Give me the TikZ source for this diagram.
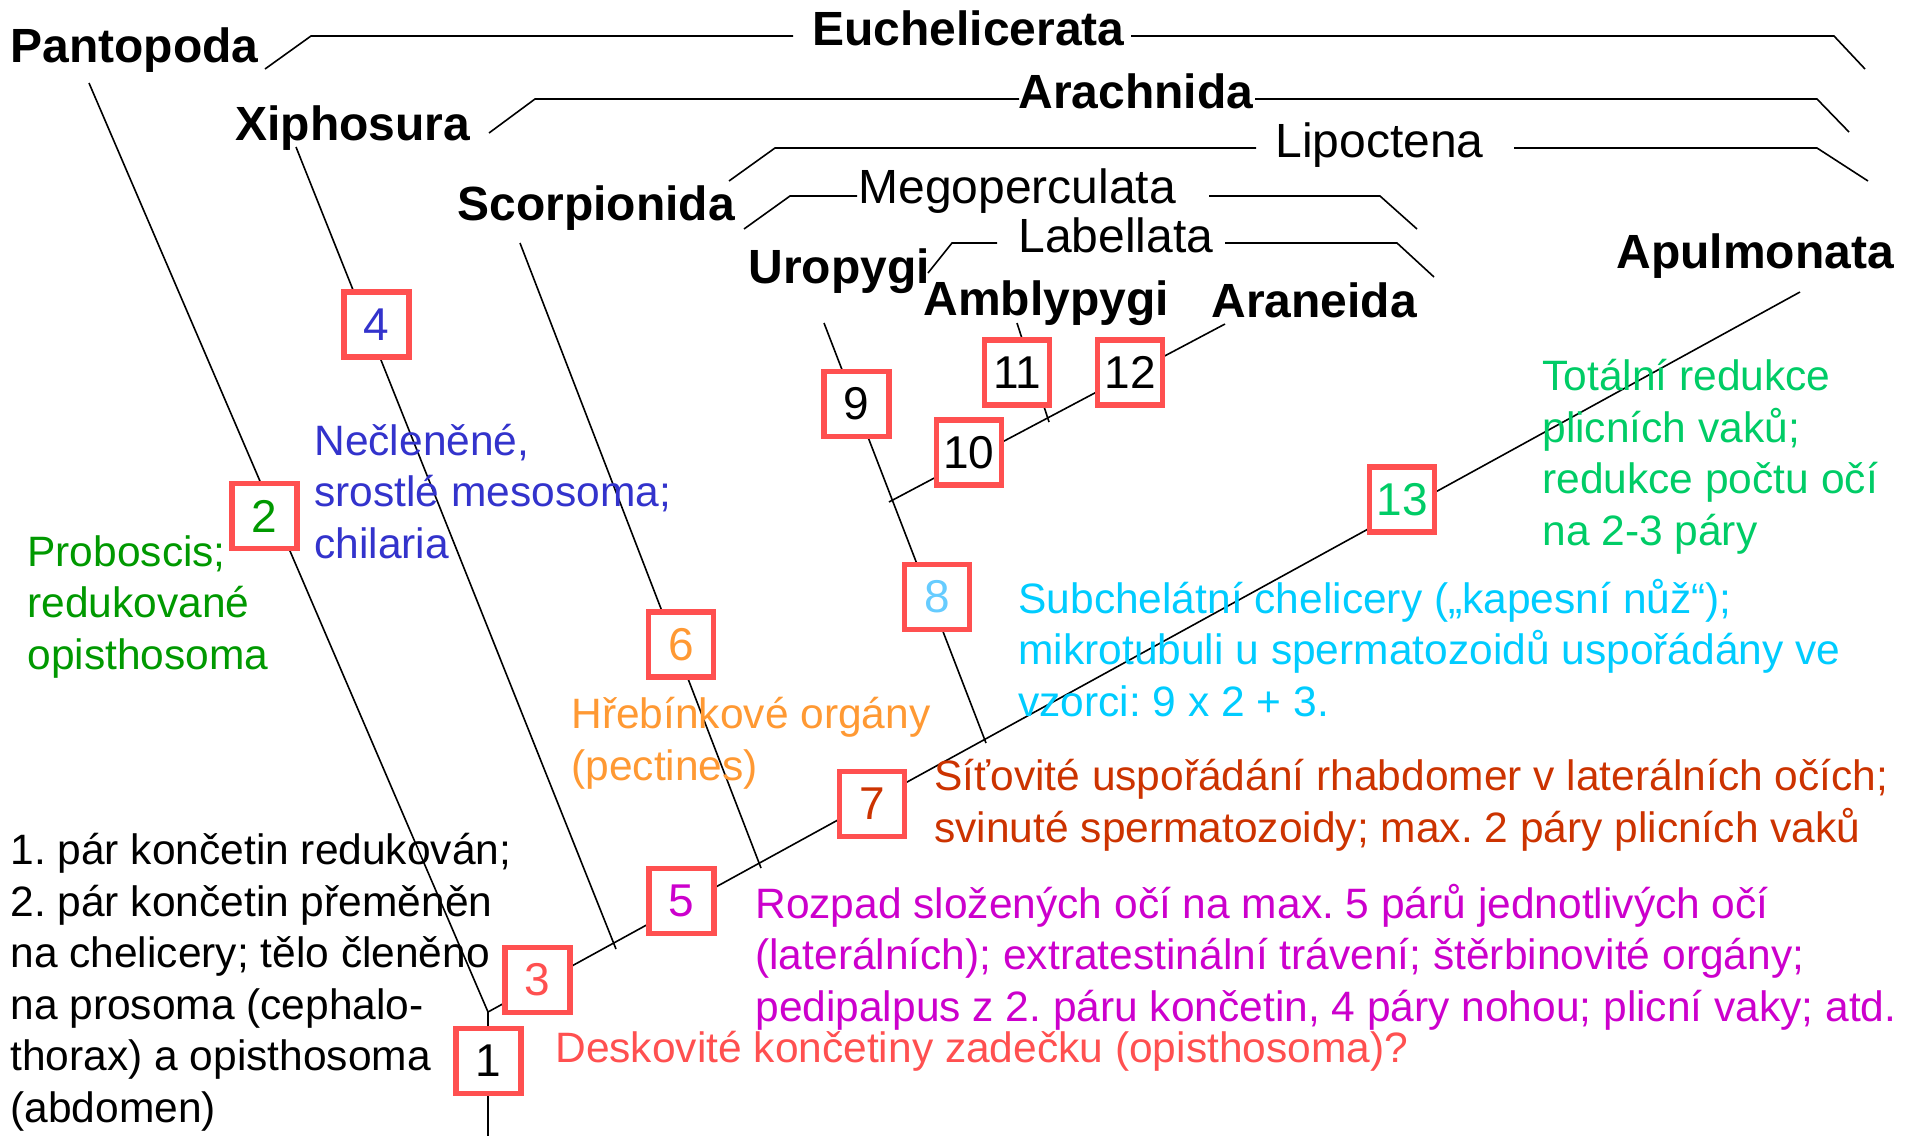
\documentclass[tikz,border=0pt]{standalone}
\usepackage{fontspec}
\setmainfont{Liberation Sans}
\frenchspacing
\newcommand\fbig{\fontsize{24}{28}\selectfont}
\newcommand\fdesc{\fontsize{21.25}{25.75}\selectfont}
\newcommand\fnum{\fontsize{23}{27}\selectfont}
\definecolor{boxred}{RGB}{255,80,80}
\definecolor{cgreen}{RGB}{0,153,0}
\definecolor{cred}{RGB}{255,80,80}
\definecolor{cblue}{RGB}{51,51,204}
\definecolor{cmag}{RGB}{204,0,204}
\definecolor{corange}{RGB}{255,153,51}
\definecolor{cbrown}{RGB}{204,51,0}
\definecolor{clblue}{RGB}{102,204,255}
\definecolor{ccyan}{RGB}{0,204,255}
\definecolor{cmint}{RGB}{0,204,102}
\begin{document}
\begin{tikzpicture}[x=0.5pt,y=-0.5pt,
  lin/.style={line width=0.8pt, black},
  nbox/.style={draw=boxred, line width=2.6pt, fill=white, minimum width=32.5pt, minimum height=32.5pt, inner sep=0pt, font=\fnum},
  clade/.style={font=\fbig\bfseries, anchor=base west, inner sep=0pt},
  subclade/.style={font=\fbig, anchor=base west, inner sep=0pt},
  desc/.style={font=\fdesc, align=left, anchor=base west, inner sep=0pt}]
\fill[white] (0,0) rectangle (1919,1136);
\useasboundingbox (0,0) rectangle (1919,1136);
% tree coordinates
\coordinate (root) at (488,1136);
\coordinate (j0) at (488,1012);
\coordinate (tPan) at (89,83);
\coordinate (tApu) at (1800,292);
\coordinate (tXip) at (296,147);  \coordinate (eXip) at (616,949);
\coordinate (tSco) at (520,243);  \coordinate (eSco) at (761,868);
\coordinate (tUro) at (824,323);  \coordinate (eUro) at (986,743);
\coordinate (tAra) at (1225,324); \coordinate (eAra) at (889,502);
\coordinate (tAmb) at (1017,323); \coordinate (eAmb) at (1049,422);
\draw[lin] (root) -- (j0) -- (tPan);
\draw[lin] (j0) -- (tApu);
\draw[lin] (tXip) -- (eXip);
\draw[lin] (tSco) -- (eSco);
\draw[lin] (tUro) -- (eUro);
\draw[lin] (tAra) -- (eAra);
\draw[lin] (tAmb) -- (eAmb);
% clade brackets
\coordinate (eu1) at (265,69); \coordinate (eu2) at (311,36); \coordinate (eu3) at (793,36);
\coordinate (eu4) at (1131,36); \coordinate (eu5) at (1834,36); \coordinate (eu6) at (1865,69);
\coordinate (ar1) at (489,133); \coordinate (ar2) at (535,99); \coordinate (ar3) at (1019,99);
\coordinate (ar4) at (1255,99); \coordinate (ar5) at (1817,99); \coordinate (ar6) at (1849,132);
\coordinate (li1) at (729,181); \coordinate (li2) at (775,148); \coordinate (li3) at (1256,148);
\coordinate (li4) at (1514,148); \coordinate (li5) at (1817,148); \coordinate (li6) at (1868,181);
\coordinate (me1) at (744,229); \coordinate (me2) at (790,196); \coordinate (me3) at (857,196);
\coordinate (me4) at (1209,196); \coordinate (me5) at (1380,196); \coordinate (me6) at (1417,229);
\coordinate (la1) at (928,273); \coordinate (la2) at (952,243); \coordinate (la3) at (997,243);
\coordinate (la4) at (1225,243); \coordinate (la5) at (1397,243); \coordinate (la6) at (1434,277);
\draw[lin] (eu1) -- (eu2) -- (eu3);  \draw[lin] (eu4) -- (eu5) -- (eu6);
\draw[lin] (ar1) -- (ar2) -- (ar3);  \draw[lin] (ar4) -- (ar5) -- (ar6);
\draw[lin] (li1) -- (li2) -- (li3);  \draw[lin] (li4) -- (li5) -- (li6);
\draw[lin] (me1) -- (me2) -- (me3);  \draw[lin] (me4) -- (me5) -- (me6);
\draw[lin] (la1) -- (la2) -- (la3);  \draw[lin] (la4) -- (la5) -- (la6);
% boxes
\node[nbox] (b1) at (488.5,1061) {1};
\node[nbox, text=cgreen] (b2) at (264.5,516) {2};
\node[nbox, text=cred] (b3) at (537.5,980) {3};
\node[nbox, text=cblue] (b4) at (376.5,324.5) {4};
\node[nbox, text=cmag] (b5) at (681.5,901) {5};
\node[nbox, text=corange] (b6) at (681,644.5) {6};
\node[nbox, text=cbrown] (b7) at (872,804) {7};
\node[nbox, text=clblue] (b8) at (937,597) {8};
\node[nbox] (b9) at (856.5,404) {9};
\node[nbox] (b10) at (969,452.5) {10};
\node[nbox] (b11) at (1017,372.5) {11};
\node[nbox] (b12) at (1130,372.5) {12};
\node[nbox, text=cmint] (b13) at (1402,499.5) {13};
% clade labels
\node[clade] (Pan) at (10,62) {Pantopoda};
\node[clade] (Euc) at (812,45) {Euchelicerata};
\node[clade] (Xip) at (235,140) {Xiphosura};
\node[clade] (Arc) at (1018,108) {Arachnida};
\node[clade] (Sco) at (457,220) {Scorpionida};
\node[subclade] (Lip) at (1275,157) {Lipoctena};
\node[subclade] (Meg) at (858,203) {Megoperculata};
\node[subclade] (Lab) at (1018,252) {Labellata};
\node[clade] (Uro) at (748,283) {Uropygi};
\node[clade] (Amb) at (923,315) {Amblypygi};
\node[clade] (Arn) at (1211,317) {Araneida};
\node[clade] (Apu) at (1616,268) {Apulmonata};
% character descriptions (anchor = baseline of last line)
\node[desc, text=cblue] (d4) at (314,558) {Nečleněné,\\srostlé mesosoma;\\chilaria};
\node[desc, text=cgreen] (d2) at (27,669) {Proboscis;\\redukované\\opisthosoma};
\node[desc] (d1) at (10,1122) {1. pár končetin redukován;\\2. pár končetin přeměněn\\na chelicery; tělo členěno\\na prosoma (cephalo-\\thorax) a opisthosoma\\(abdomen)};
\node[desc, text=corange] (d6) at (571,780) {Hřebínkové orgány\\(pectines)};
\node[desc, text=cred] (d3) at (555,1062) {Deskovité končetiny zadečku (opisthosoma)?};
\node[desc, text=cmag] (d5) at (755,1021) {Rozpad složených očí na max. 5 párů jednotlivých očí\\(laterálních); extratestinální trávení; štěrbinovité orgány;\\pedipalpus z 2. páru končetin, 4 páry nohou; plicní vaky; atd.};
\node[desc, text=cbrown] (d7) at (934,842) {Síťovité uspořádání rhabdomer v laterálních očích;\\svinuté spermatozoidy; max. 2 páry plicních vaků};
\node[desc, text=ccyan] (d8) at (1018,716) {Subchelátní chelicery („kapesní nůž“);\\mikrotubuli u spermatozoidů uspořádány ve\\vzorci: 9 x 2 + 3.};
\node[desc, text=cmint] (d13) at (1542,545) {Totální redukce\\plicních vaků;\\redukce počtu očí\\na 2-3 páry};
\end{tikzpicture}
\end{document}
